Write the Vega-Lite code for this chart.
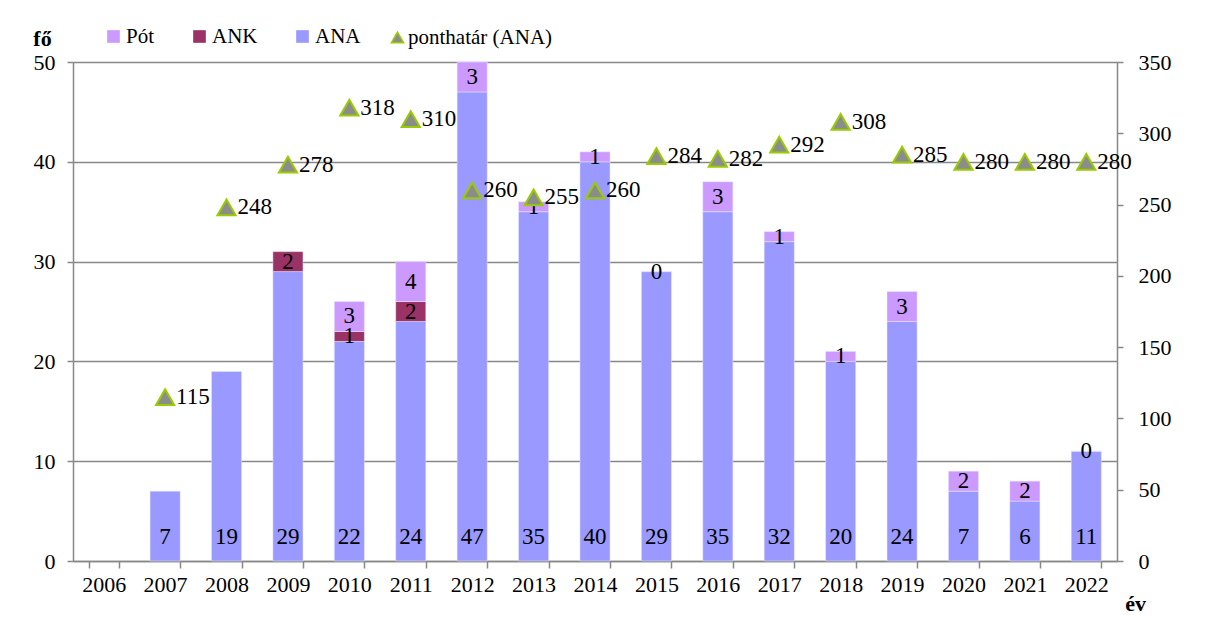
{
  "$schema": "https://vega.github.io/schema/vega-lite/v6.json",
  "width": 1044,
  "height": 499,
  "autosize": {"type": "none"},
  "padding": {"left": 73, "top": 62, "right": 91, "bottom": 65},
  "background": "white",
  "config": {
    "font": "Liberation Serif",
    "view": {"stroke": null}
  },
  "datasets": {
    "bars": [
      {"year": "2007", "series": "ANA", "value": 7},
      {"year": "2008", "series": "ANA", "value": 19},
      {"year": "2009", "series": "ANA", "value": 29},
      {"year": "2009", "series": "ANK", "value": 2},
      {"year": "2010", "series": "ANA", "value": 22},
      {"year": "2010", "series": "ANK", "value": 1},
      {"year": "2010", "series": "Pót", "value": 3},
      {"year": "2011", "series": "ANA", "value": 24},
      {"year": "2011", "series": "ANK", "value": 2},
      {"year": "2011", "series": "Pót", "value": 4},
      {"year": "2012", "series": "ANA", "value": 47},
      {"year": "2012", "series": "Pót", "value": 3},
      {"year": "2013", "series": "ANA", "value": 35},
      {"year": "2013", "series": "Pót", "value": 1},
      {"year": "2014", "series": "ANA", "value": 40},
      {"year": "2014", "series": "Pót", "value": 1},
      {"year": "2015", "series": "ANA", "value": 29},
      {"year": "2015", "series": "Pót", "value": 0},
      {"year": "2016", "series": "ANA", "value": 35},
      {"year": "2016", "series": "Pót", "value": 3},
      {"year": "2017", "series": "ANA", "value": 32},
      {"year": "2017", "series": "Pót", "value": 1},
      {"year": "2018", "series": "ANA", "value": 20},
      {"year": "2018", "series": "Pót", "value": 1},
      {"year": "2019", "series": "ANA", "value": 24},
      {"year": "2019", "series": "Pót", "value": 3},
      {"year": "2020", "series": "ANA", "value": 7},
      {"year": "2020", "series": "Pót", "value": 2},
      {"year": "2021", "series": "ANA", "value": 6},
      {"year": "2021", "series": "Pót", "value": 2},
      {"year": "2022", "series": "ANA", "value": 11},
      {"year": "2022", "series": "Pót", "value": 0}
    ],
    "limits": [
      {"year": "2007", "limit": 115},
      {"year": "2008", "limit": 248},
      {"year": "2009", "limit": 278},
      {"year": "2010", "limit": 318},
      {"year": "2011", "limit": 310},
      {"year": "2012", "limit": 260},
      {"year": "2013", "limit": 255},
      {"year": "2014", "limit": 260},
      {"year": "2015", "limit": 284},
      {"year": "2016", "limit": 282},
      {"year": "2017", "limit": 292},
      {"year": "2018", "limit": 308},
      {"year": "2019", "limit": 285},
      {"year": "2020", "limit": 280},
      {"year": "2021", "limit": 280},
      {"year": "2022", "limit": 280}
    ]
  },
  "resolve": {"scale": {"y": "independent"}},
  "layer": [
    {
      "data": {"name": "bars"},
      "transform": [
        {"stack": "value", "groupby": ["year"], "sort": [{"field": "series", "order": "ascending"}], "as": ["y0", "y1"]},
        {"calculate": "(datum.y0 + datum.y1) / 2", "as": "mid"}
      ],
      "layer": [
        {
          "mark": {"type": "bar", "stroke": "#e8e8ff", "strokeWidth": 0.5},
          "encoding": {
            "x": {"field": "year", "type": "nominal", "sort": null,
              "scale": {"domain": ["2006","2007","2008","2009","2010","2011","2012","2013","2014","2015","2016","2017","2018","2019","2020","2021","2022"], "paddingInner": 0.51, "paddingOuter": 0.255},
              "axis": {"title": "év", "titleFont": "Liberation Serif", "titleFontSize": 22, "titleColor": "black", "titleFontWeight": "bold", "titleX": 1062, "titleY": 42, "titleAlign": "center", "titleBaseline": "middle", "labelAngle": 0, "labelFont": "Liberation Serif", "labelFontSize": 22, "labelColor": "black", "tickBand": "extent", "tickSize": 7, "tickColor": "#888888", "tickWidth": 1.5, "domainColor": "#888888", "domainWidth": 1.5, "labelPadding": 6, "grid": false}},
            "y": {"field": "y0", "type": "quantitative", "scale": {"domain": [0, 50], "nice": false},
              "axis": {"title": "fő", "titleFont": "Liberation Serif", "titleFontSize": 22, "titleColor": "black", "titleAngle": 0, "titleX": -31, "titleY": -24, "titleAlign": "center", "titleBaseline": "middle", "titleFontWeight": "bold", "values": [0, 10, 20, 30, 40, 50], "labelFont": "Liberation Serif", "labelFontSize": 22, "labelColor": "black", "grid": true, "gridColor": "#888888", "gridWidth": 1.5, "tickSize": 6, "tickColor": "#888888", "tickWidth": 1.5, "domainColor": "#888888", "domainWidth": 1.5, "labelPadding": 12}},
            "y2": {"field": "y1"},
            "color": {"field": "series", "type": "nominal",
              "scale": {"domain": ["Pót", "ANK", "ANA"], "range": ["#CC99FF", "#993366", "#9999FF"]},
              "legend": {"title": null, "orient": "none", "direction": "horizontal", "gridAlign": "none", "legendX": 30, "legendY": -36, "symbolType": "square", "symbolSize": 160, "symbolStrokeWidth": 0, "columnPadding": 34, "labelOffset": 2, "labelFont": "Liberation Serif", "labelFontSize": 21, "labelColor": "black", "padding": 0}}
          }
        },
        {
          "transform": [{"filter": "datum.series != 'ANA'"}],
          "mark": {"type": "text", "fontSize": 23, "baseline": "middle", "align": "center", "color": "black"},
          "encoding": {
            "x": {"field": "year", "type": "nominal", "sort": null},
            "y": {"field": "mid", "type": "quantitative"},
            "text": {"field": "value", "type": "quantitative"}
          }
        },
        {
          "transform": [{"filter": "datum.series == 'ANA'"}],
          "mark": {"type": "text", "fontSize": 23, "baseline": "middle", "align": "center", "color": "black", "dy": -24},
          "encoding": {
            "x": {"field": "year", "type": "nominal", "sort": null},
            "y": {"datum": 0, "type": "quantitative"},
            "text": {"field": "value", "type": "quantitative"}
          }
        }
      ]
    },
    {
      "data": {"name": "limits"},
      "layer": [
        {
          "mark": {"type": "point", "shape": "triangle-up", "filled": true, "fill": "#8c8c8c", "stroke": "#99CC00", "strokeWidth": 2, "size": 330, "opacity": 1},
          "encoding": {
            "x": {"field": "year", "type": "nominal", "sort": null},
            "y": {"field": "limit", "type": "quantitative", "scale": {"domain": [0, 350], "nice": false},
              "axis": {"orient": "right", "title": null, "values": [0, 50, 100, 150, 200, 250, 300, 350], "labelFont": "Liberation Serif", "labelFontSize": 22, "labelColor": "black", "grid": false, "tickSize": 6, "tickColor": "#888888", "tickWidth": 1.5, "domainColor": "#888888", "domainWidth": 1.5, "labelPadding": 15}},
            "shape": {"datum": "ponthatár (ANA)", "scale": {"range": ["triangle-up"]},
              "legend": {"title": null, "orient": "none", "legendX": 314, "legendY": -35, "symbolSize": 150, "labelOffset": 0, "labelFont": "Liberation Serif", "labelFontSize": 21, "labelColor": "black", "padding": 0,
                "encode": {"symbols": {"update": {"fill": {"value": "#8c8c8c"}, "stroke": {"value": "#99CC00"}, "strokeWidth": {"value": 1.5}, "opacity": {"value": 1}}}}}}
          }
        },
        {
          "mark": {"type": "text", "fontSize": 23, "baseline": "middle", "align": "left", "dx": 11, "color": "black"},
          "encoding": {
            "x": {"field": "year", "type": "nominal", "sort": null},
            "y": {"field": "limit", "type": "quantitative"},
            "text": {"field": "limit", "type": "quantitative"}
          }
        }
      ]
    }
  ]
}
